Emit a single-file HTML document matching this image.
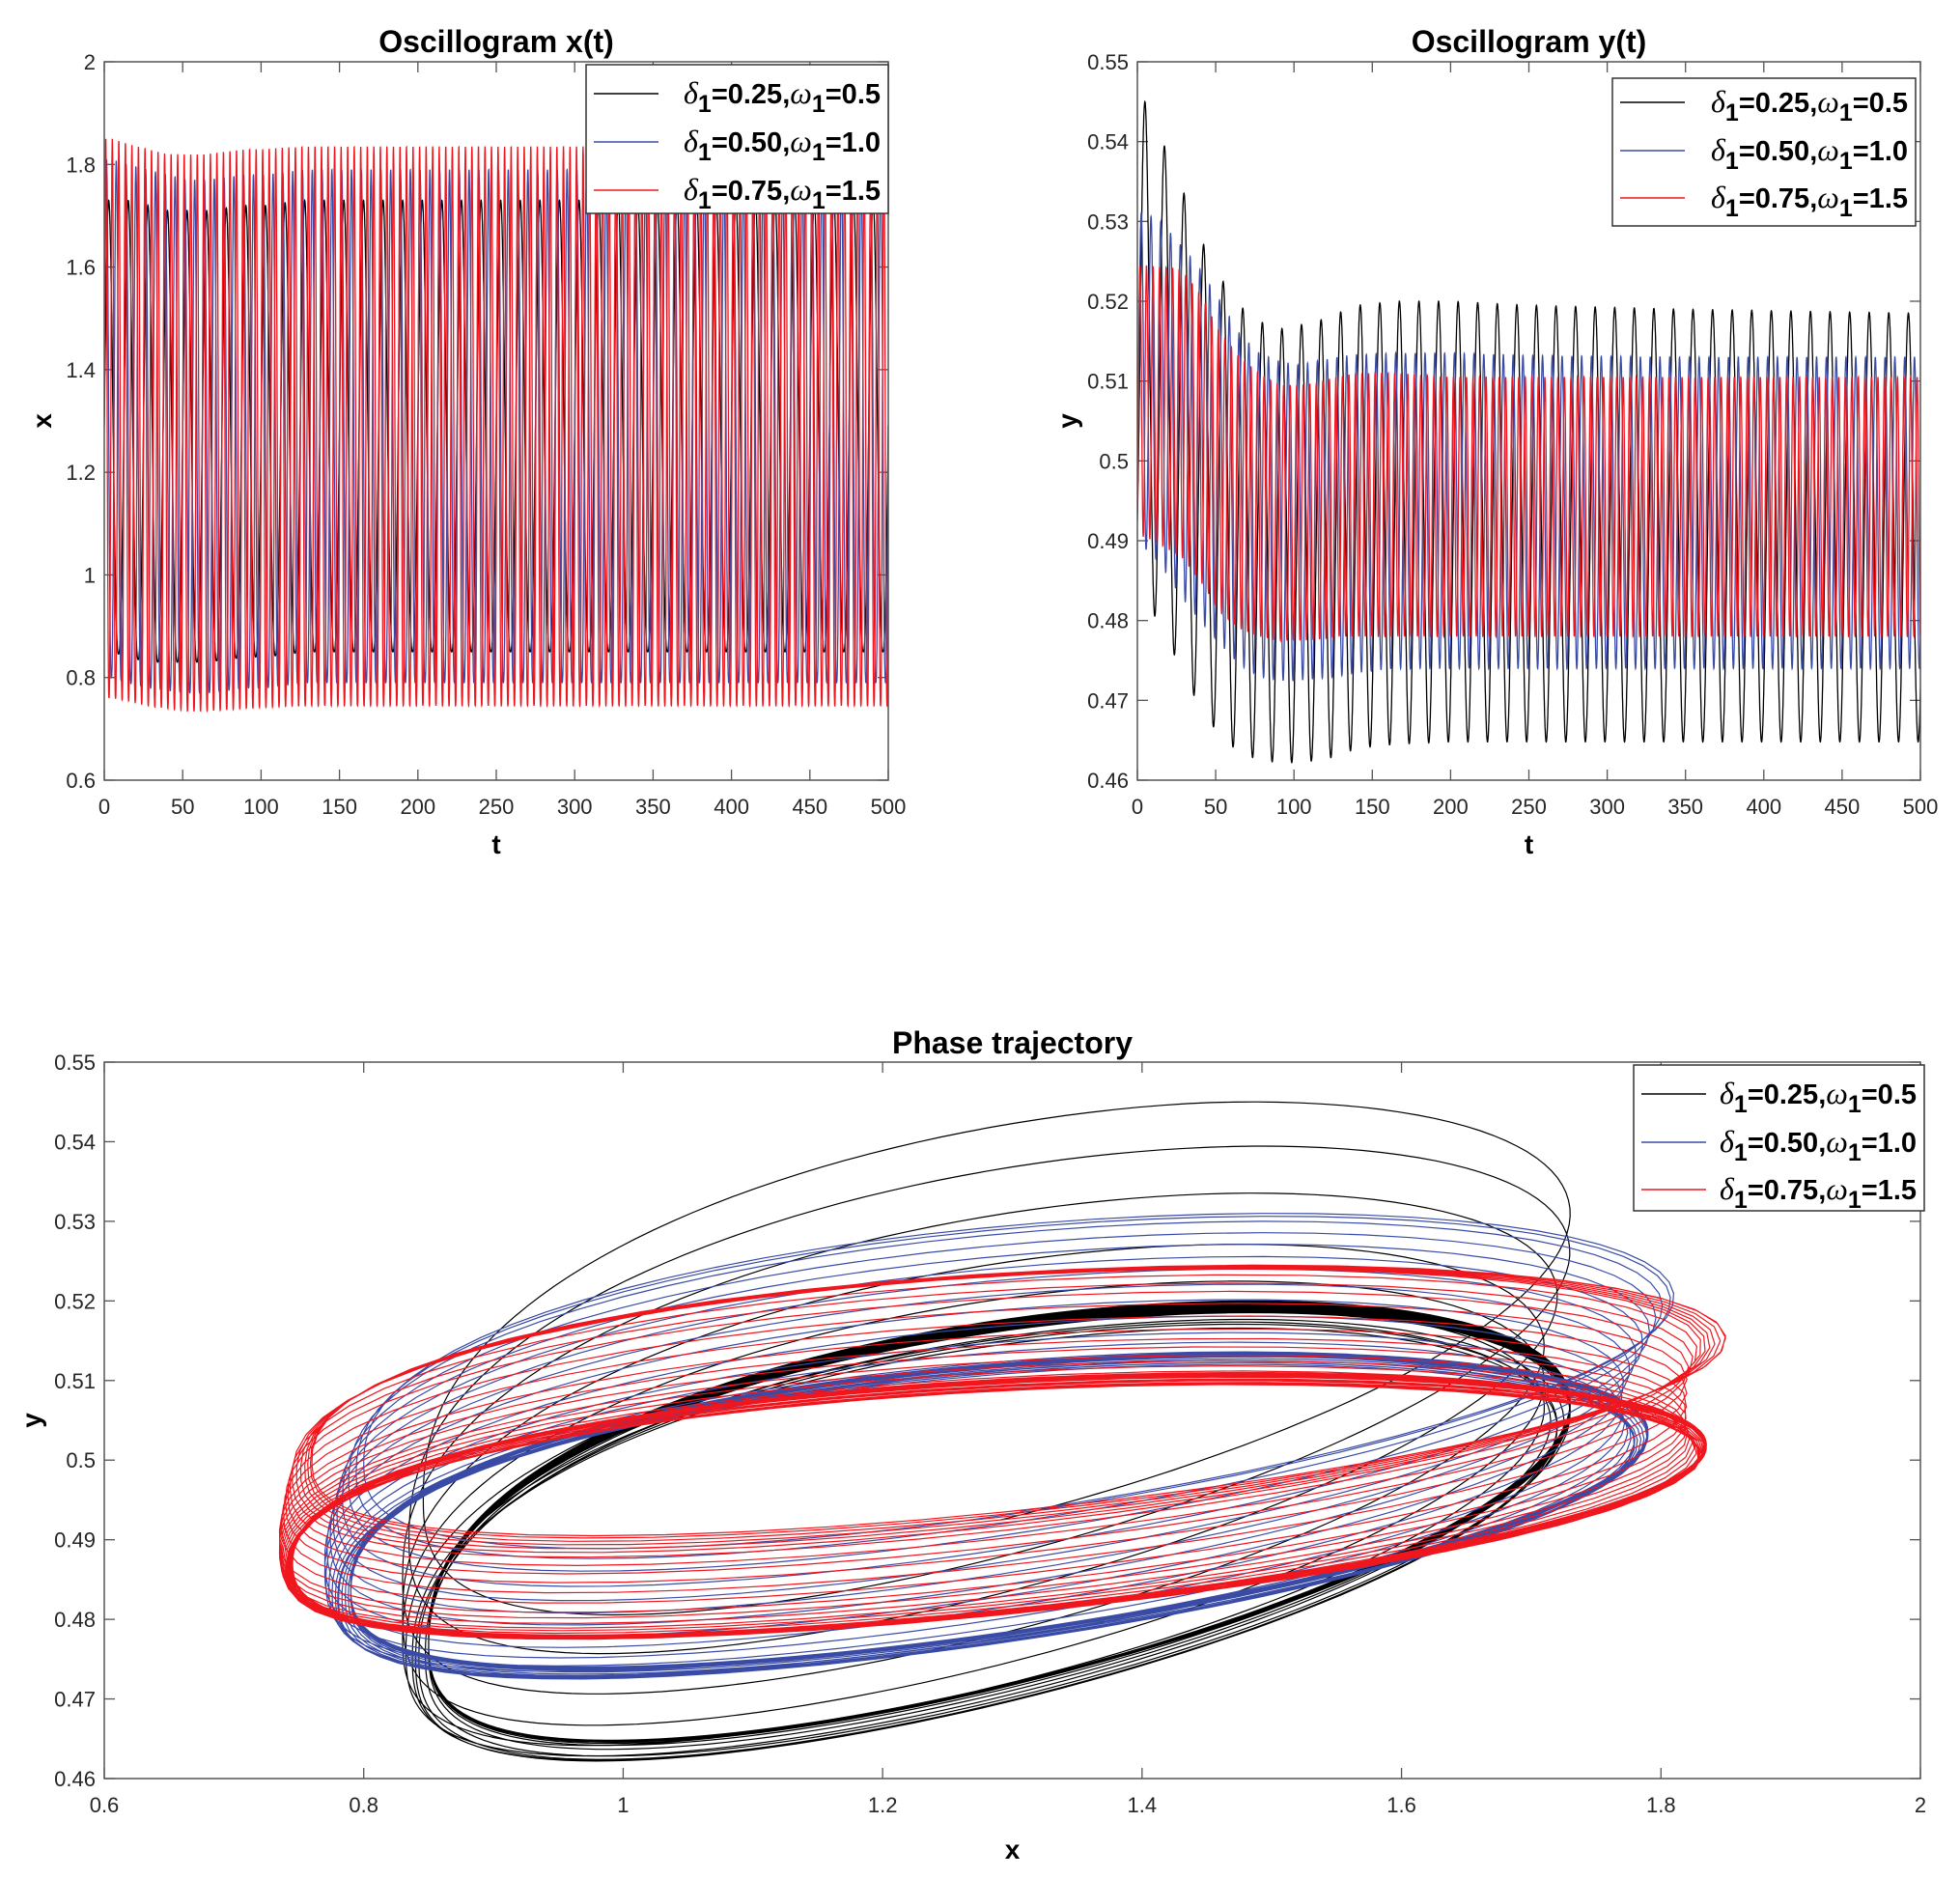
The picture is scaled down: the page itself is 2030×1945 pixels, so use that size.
<!DOCTYPE html>
<html><head><meta charset="utf-8"><title>Oscillograms and phase trajectory</title>
<style>
html,body{margin:0;padding:0;background:#fff;}
svg{display:block;font-family:"Liberation Sans",Arial,sans-serif;}
.tick{font-size:22px;fill:#262626;}
.title{font-size:32px;font-weight:bold;fill:#000;}
.alab{font-size:28px;font-weight:bold;fill:#000;}
.leg{font-size:29px;font-weight:bold;fill:#000;}
</style></head>
<body>
<svg id="fig" width="2030" height="1945" viewBox="0 0 2030 1945" xmlns="http://www.w3.org/2000/svg"></svg>
<script>
// ---------- data ----------
const seriesNames = ["δ1=0.25,ω1=0.5","δ1=0.50,ω1=1.0","δ1=0.75,ω1=1.5"];
const seriesPeriods = [12.5, 6.25, 4.17];
const seriesPhaseLag = [1.0, 1.05, 1.1];
// envelope sample times
const envT = [0, 5, 15, 28, 40, 53, 65, 78, 90, 103, 115, 128, 140, 165, 200, 250, 350, 500];
// x(t) envelopes
const xMaxBlack = [1.73,1.73,1.73,1.72,1.71,1.71,1.71,1.715,1.72,1.72,1.725,1.73,1.73,1.73,1.73,1.73,1.73,1.73];
const xMinBlack = [0.85,0.85,0.84,0.83,0.83,0.83,0.83,0.835,0.84,0.84,0.845,0.85,0.85,0.85,0.85,0.85,0.85,0.85];
const xMaxBlue  = [1.81,1.81,1.80,1.79,1.78,1.77,1.77,1.775,1.78,1.78,1.785,1.79,1.79,1.79,1.79,1.79,1.79,1.79];
const xMinBlue  = [0.80,0.80,0.79,0.78,0.775,0.77,0.77,0.775,0.78,0.78,0.785,0.79,0.79,0.79,0.79,0.79,0.79,0.79];
const xMaxRed   = [1.85,1.85,1.84,1.83,1.82,1.82,1.82,1.825,1.83,1.83,1.833,1.835,1.835,1.835,1.835,1.835,1.835,1.835];
const xMinRed   = [0.76,0.76,0.755,0.745,0.74,0.735,0.735,0.737,0.74,0.742,0.744,0.745,0.745,0.745,0.745,0.745,0.745,0.745];
// y(t) envelopes
const yMaxBlack = [0.545,0.545,0.5405,0.5345,0.528,0.523,0.5195,0.5175,0.5165,0.517,0.5175,0.5185,0.5195,0.520,0.520,0.5195,0.519,0.5185];
const yMinBlack = [0.485,0.483,0.479,0.474,0.469,0.4655,0.4635,0.4625,0.4622,0.4622,0.4625,0.463,0.464,0.4645,0.4648,0.4648,0.4648,0.4648];
const yMaxBlue  = [0.531,0.531,0.530,0.527,0.524,0.520,0.516,0.5135,0.5125,0.512,0.5125,0.513,0.5133,0.5135,0.5135,0.5132,0.513,0.513];
const yMinBlue  = [0.489,0.489,0.487,0.483,0.480,0.477,0.4745,0.473,0.4725,0.4725,0.4727,0.473,0.4735,0.474,0.474,0.474,0.474,0.474];
const yMaxRed   = [0.5245,0.5245,0.5243,0.524,0.521,0.516,0.513,0.511,0.5095,0.5095,0.5098,0.5105,0.511,0.511,0.5105,0.5105,0.5105,0.5105];
const yMinRed   = [0.4905,0.4905,0.4895,0.488,0.485,0.481,0.479,0.478,0.4775,0.4775,0.4776,0.478,0.478,0.478,0.478,0.478,0.478,0.478];
const xTickLabelsT = ["0","50","100","150","200","250","300","350","400","450","500"];
const xTickLabelsX = ["0.6","0.8","1","1.2","1.4","1.6","1.8","2"];
const yTickLabelsX = ["0.6","0.8","1","1.2","1.4","1.6","1.8","2"];
const yTickLabelsY = ["0.46","0.47","0.48","0.49","0.5","0.51","0.52","0.53","0.54","0.55"];
const seriesColors = ["#000000","#3a4ba6","#f0161e"];

// ---------- helpers ----------
const NS="http://www.w3.org/2000/svg";
const fig=document.getElementById('fig');
function mk(tag,attrs,parent){const e=document.createElementNS(NS,tag);for(const k in attrs)e.setAttribute(k,attrs[k]);(parent||fig).appendChild(e);return e;}
function lin(d0,d1,r0,r1){return v=>r0+(v-d0)*(r1-r0)/(d1-d0);}
function interp(ts,vs,t){if(t<=ts[0])return vs[0];for(let i=1;i<ts.length;i++){if(t<=ts[i]){const f=(t-ts[i-1])/(ts[i]-ts[i-1]);return vs[i-1]+f*(vs[i]-vs[i-1]);}}return vs[vs.length-1];}

const xEnv=[[xMaxBlack,xMinBlack],[xMaxBlue,xMinBlue],[xMaxRed,xMinRed]];
const yEnv=[[yMaxBlack,yMinBlack],[yMaxBlue,yMinBlue],[yMaxRed,yMinRed]];
const traj=[];
for(let s=0;s<3;s++){
  const pts=[];const w=2*Math.PI/seriesPeriods[s];const th0=-1.42;
  for(let t=0;t<=500.0001;t+=0.08){
    const th=w*t+th0;
    const xa=interp(envT,xEnv[s][0],t),xb=interp(envT,xEnv[s][1],t);
    const ya=interp(envT,yEnv[s][0],t),yb=interp(envT,yEnv[s][1],t);
    const cx=(1+Math.cos(th))/2;
    const xv=xb+(xa-xb)*Math.pow(cx,1.25);
    const yv=(ya+yb)/2+(ya-yb)/2*Math.cos(th-seriesPhaseLag[s]);
    pts.push([t,xv,yv]);
  }
  traj.push(pts);
}

function axes(g,L,T,R,B,xTicks,xLabels,xs,yTicks,yLabels,ys,name){
  mk('rect',{x:L,y:T,width:R-L,height:B-T,fill:'#fff',stroke:'none'},g);
  const tg=mk('g',{},g);
  
  
  xTicks.forEach((v,i)=>{const X=xs(v);
    mk('line',{x1:X,y1:B,x2:X,y2:B-11,stroke:'#555','stroke-width':1.3},tg);
    mk('line',{x1:X,y1:T,x2:X,y2:T+11,stroke:'#555','stroke-width':1.3},tg);
    const t=mk('text',{x:X,y:B+35,'text-anchor':'middle',class:'tick'},tg);t.textContent=xLabels[i];});
  yTicks.forEach((v,i)=>{const Y=ys(v);
    mk('line',{x1:L,y1:Y,x2:L+11,y2:Y,stroke:'#555','stroke-width':1.3},tg);
    mk('line',{x1:R,y1:Y,x2:R-11,y2:Y,stroke:'#555','stroke-width':1.3},tg);
    const t=mk('text',{x:L-9,y:Y+8,'text-anchor':'end',class:'tick'},tg);t.textContent=yLabels[i];});
}
function frame(g,L,T,R,B){mk('rect',{x:L,y:T,width:R-L,height:B-T,fill:'none',stroke:'#555','stroke-width':1.5},g);}
function legend(g,L,T,R,B,rows){
  const lg=mk('g',{},g);
  
  
  mk('rect',{x:L,y:T,width:R-L,height:B-T,fill:'#fff',stroke:'#333','stroke-width':1.5},lg);
  rows.forEach((ry,i)=>{
    const e=mk('g',{},lg);
    
    
    mk('line',{x1:L+8,y1:ry,x2:L+75,y2:ry,stroke:seriesColors[i],'stroke-width':1.5},e);
    const parts=seriesNames[i].match(/δ1=([\d.]+),ω1=([\d.]+)/);
    const t=mk('text',{x:R-8,y:ry+10,'text-anchor':'end',class:'leg'},e);
    t.innerHTML='<tspan font-style="italic" font-weight="normal" font-family="Liberation Serif,serif" font-size="32">δ</tspan><tspan dy="9" font-size="25">1</tspan><tspan dy="-9">='+parts[1]+',</tspan><tspan font-style="italic" font-weight="normal" font-family="Liberation Serif,serif" font-size="32">ω</tspan><tspan dy="9" font-size="25">1</tspan><tspan dy="-9">='+parts[2]+'</tspan>';
  });
}
function clip(id,L,T,R,B){const c=mk('clipPath',{id:id});mk('rect',{x:L,y:T,width:R-L,height:B-T},c);}

const sNames=['series-black','series-blue','series-red'];
// ---------- Panel 1: x(t) ----------
(function(){
  const L=108,T=64,R=920,B=808;
  const g=mk('g',{});
  const xs=lin(0,500,L,R), ys=lin(0.6,2,B,T);
  axes(g,L,T,R,B,xTickLabelsT.map(Number),xTickLabelsT,xs,yTickLabelsX.map(Number),yTickLabelsX,ys,'oscillogram-x');
  clip('c1',L,T,R,B);
  for(let s=0;s<3;s++){let d='';traj[s].forEach((p,i)=>{d+=(i?'L':'M')+xs(p[0]).toFixed(1)+' '+ys(p[1]).toFixed(1);});
    const p=mk('path',{d:d,fill:'none',stroke:seriesColors[s],'stroke-width':1.3,'clip-path':'url(#c1)'},g);
    
    }
  frame(g,L,T,R,B);
  legend(g,607,67,920,221,[97,147,197]);
  const t=mk('text',{x:(L+R)/2,y:54,'text-anchor':'middle',class:'title'},g);t.textContent='Oscillogram x(t)';
  
  const xl=mk('text',{x:(L+R)/2,y:884,'text-anchor':'middle',class:'alab'},g);xl.textContent='t';
  
  const yl=mk('text',{x:53,y:436,'text-anchor':'middle',class:'alab',transform:'rotate(-90 53 436)'},g);yl.textContent='x';
  
})();
// ---------- Panel 2: y(t) ----------
(function(){
  const L=1178,T=64,R=1989,B=808;
  const g=mk('g',{});
  const xs=lin(0,500,L,R), ys=lin(0.46,0.55,B,T);
  axes(g,L,T,R,B,xTickLabelsT.map(Number),xTickLabelsT,xs,yTickLabelsY.map(Number),yTickLabelsY,ys,'oscillogram-y');
  clip('c2',L,T,R,B);
  for(let s=0;s<3;s++){let d='';traj[s].forEach((p,i)=>{d+=(i?'L':'M')+xs(p[0]).toFixed(1)+' '+ys(p[2]).toFixed(1);});
    const p=mk('path',{d:d,fill:'none',stroke:seriesColors[s],'stroke-width':1.3,'clip-path':'url(#c2)'},g);
    
    }
  frame(g,L,T,R,B);
  legend(g,1670,81,1984,234,[106,156,205]);
  const t=mk('text',{x:(L+R)/2,y:54,'text-anchor':'middle',class:'title'},g);t.textContent='Oscillogram y(t)';
  
  const xl=mk('text',{x:(L+R)/2,y:884,'text-anchor':'middle',class:'alab'},g);xl.textContent='t';
  
  const yl=mk('text',{x:1115,y:436,'text-anchor':'middle',class:'alab',transform:'rotate(-90 1115 436)'},g);yl.textContent='y';
  
})();
// ---------- Panel 3: phase trajectory ----------
(function(){
  const L=108,T=1100,R=1989,B=1842;
  const g=mk('g',{});
  const xs=lin(0.6,2,L,R), ys=lin(0.46,0.55,B,T);
  axes(g,L,T,R,B,xTickLabelsX.map(Number),xTickLabelsX,xs,yTickLabelsY.map(Number),yTickLabelsY,ys,'phase');
  clip('c3',L,T,R,B);
  for(let s=0;s<3;s++){let d='';traj[s].forEach((p,i)=>{d+=(i?'L':'M')+xs(p[1]).toFixed(1)+' '+ys(p[2]).toFixed(1);});
    const p=mk('path',{d:d,fill:'none',stroke:seriesColors[s],'stroke-width':1.2,'clip-path':'url(#c3)'},g);
    
    }
  frame(g,L,T,R,B);
  legend(g,1692,1103,1993,1254,[1133,1183,1232]);
  const t=mk('text',{x:(L+R)/2,y:1091,'text-anchor':'middle',class:'title'},g);t.textContent='Phase trajectory';
  
  const xl=mk('text',{x:(L+R)/2,y:1925,'text-anchor':'middle',class:'alab'},g);xl.textContent='x';
  
  const yl=mk('text',{x:42,y:1471,'text-anchor':'middle',class:'alab',transform:'rotate(-90 42 1471)'},g);yl.textContent='y';
  
})();
</script>
</body></html>
